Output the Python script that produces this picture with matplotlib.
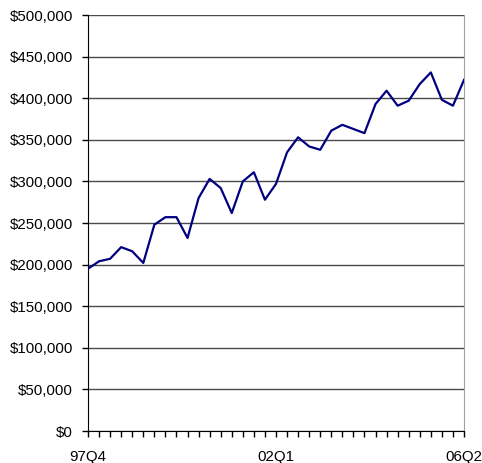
import numpy as np
import matplotlib.pyplot as plt
from matplotlib.ticker import FuncFormatter, MultipleLocator

plt.rcParams['font.family'] = ['Liberation Sans', 'DejaVu Sans']

# --- data: quarterly values, 97Q4 .. 06Q2 ---
years = list(range(1998, 2006))
quarters = ['97Q4'] + [f'{y % 100:02d}Q{q}' for y in years for q in range(1, 5)] + ['06Q1', '06Q2']
values = [195000, 204000, 207000, 221000, 216000, 202000, 248000, 257000, 257000, 232000,
          280000, 303000, 292000, 262000, 300000, 311000, 278000, 297000, 335000, 353000,
          342000, 338000, 361000, 368000, 363000, 358000, 393000, 409000, 391000, 397000,
          417000, 431000, 398000, 391000, 422000]
shown_labels = ['97Q4', '02Q1', '06Q2']

x = np.arange(len(quarters))

fig = plt.figure(figsize=(4.82, 4.63), dpi=100)
ax = fig.add_axes([88 / 482, 32 / 463, 376 / 482, 416 / 463])

ax.plot(x, values, color='#000080', linewidth=1.6, zorder=3)

ax.set_xlim(0, len(quarters) - 1)
ax.set_ylim(0, 500000)

# y axis
ax.yaxis.set_major_locator(MultipleLocator(50000))
ax.yaxis.set_major_formatter(FuncFormatter(lambda v, p: f'${v:,.0f}'))
ax.grid(axis='y', color='#4a4a4a', linewidth=1.0)
ax.set_axisbelow(True)
ax.tick_params(axis='y', direction='out', length=4.5, width=1, pad=6.5,
               labelsize=10.8, colors='black')

# x axis: minor ticks every quarter, labels at three points
ax.set_xticks(x, minor=True)
ax.set_xticks([quarters.index(q) for q in shown_labels])
ax.set_xticklabels(shown_labels)
ax.tick_params(axis='x', which='both', direction='out', length=4.5, width=1,
               pad=9, labelsize=10.8)

ax.spines['top'].set_visible(False)
ax.spines['right'].set_color('#a0a0a0')
ax.spines['left'].set_color('black')
ax.spines['bottom'].set_color('black')

for lab in ax.get_xticklabels():
    lab.set_clip_on(False)

plt.savefig('out.png', dpi=100)
